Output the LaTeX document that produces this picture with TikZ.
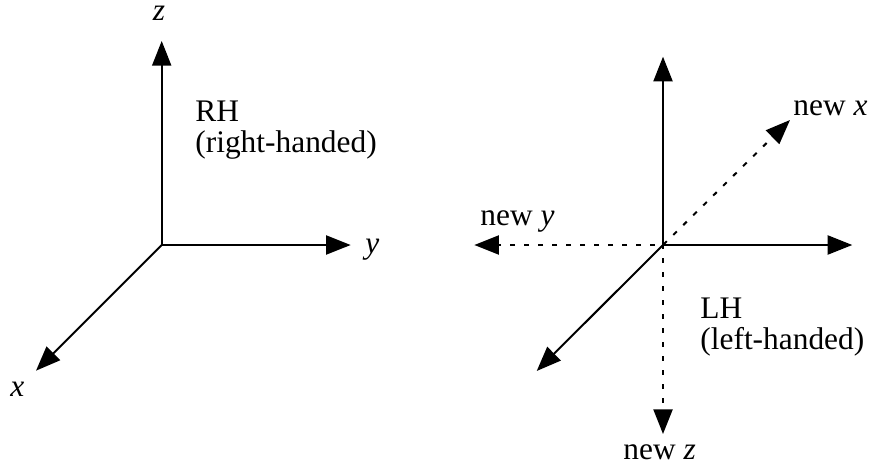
\documentclass[tikz,border=0pt]{standalone}
\usepackage{fontspec}
\setmainfont{Liberation Serif}
\usetikzlibrary{arrows.meta}
\tikzset{
    axis line/.style={line width=1pt, -{Triangle[length=12.3pt, width=9.5pt]}},
    new line/.style={axis line, dash pattern=on 2.5pt off 4.5pt, dash phase=#1},
    label text/.style={inner sep=0pt, anchor=base west, font=\fontsize{15.7}{15.7}\selectfont},
    name text/.style={inner sep=0pt, anchor=base west, align=left, font=\fontsize{15.7}{15.5}\selectfont}
}
\begin{document}
\begin{tikzpicture}[x=0.5pt, y=-0.5pt]
    \useasboundingbox (0,0) rectangle (870,466);

    % Right-handed axes
    \coordinate (rh_origin) at (161.7,245);
    \coordinate (rh_z) at (161.7,41);
    \coordinate (rh_y) at (350.7,245);
    \coordinate (rh_x) at (36,370.7);

    \foreach \n in {rh_z, rh_y, rh_x} {
        \draw[axis line] (rh_origin) -- (\n);
    }

    \node[label text] (label_z) at (152.5,20.7) {\textit{z}};
    \node[label text] (label_y) at (365,253) {\textit{y}};
    \node[label text] (label_x) at (10,396.7) {\textit{x}};
    \node[name text] (label_rh) at (195,152.7) {RH\\(right-handed)};

    % Left-handed axes
    \coordinate (lh_origin) at (663,245);
    \coordinate (lh_up) at (663,56.7);
    \coordinate (lh_right) at (852.3,245);
    \coordinate (lh_down) at (536.7,371);
    \coordinate (new_x) at (790,120);
    \coordinate (new_y) at (474.3,245);
    \coordinate (new_z) at (663,434);

    \foreach \n in {lh_up, lh_right, lh_down} {
        \draw[axis line] (lh_origin) -- (\n);
    }
    \draw[new line=6.8pt] (lh_origin) -- (new_x);
    \draw[new line=3pt] (lh_origin) -- (new_y);
    \draw[new line=0.5pt] (lh_origin) -- (new_z);

    \node[label text] (label_new_x) at (793,115) {new \textit{x}};
    \node[label text] (label_new_y) at (480,225) {new \textit{y}};
    \node[label text] (label_new_z) at (623,459) {new \textit{z}};
    \node[name text] (label_lh) at (700,349.3) {LH\\(left-handed)};
\end{tikzpicture}
\end{document}
